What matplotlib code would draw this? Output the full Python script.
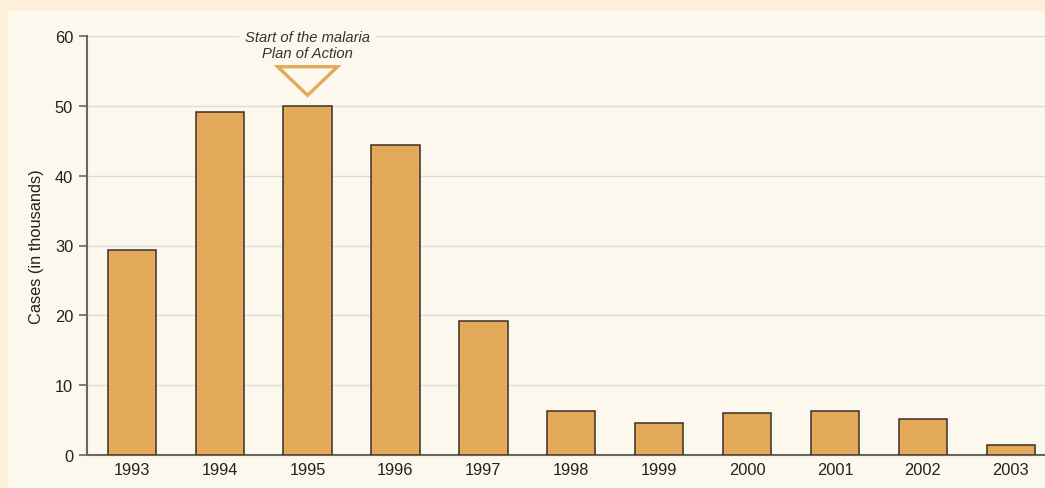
import matplotlib.pyplot as plt
from matplotlib.patches import Polygon, Rectangle

years = ['1993', '1994', '1995', '1996', '1997', '1998', '1999', '2000', '2001', '2002', '2003']
cases = [29.4, 49.1, 50.0, 44.4, 19.2, 6.3, 4.6, 6.0, 6.3, 5.2, 1.4]
yticks = [0, 10, 20, 30, 40, 50, 60]
note = "Start of the malaria\nPlan of Action"
note_year = 2

outer = '#fdefd9'
panel = '#fdf8ee'
bar_col = '#e3aa5c'
edge_col = '#3b2f22'
grid_col = '#d9d9df'
spine_col = '#6b6660'
text_col = '#222222'

plt.rcParams['font.family'] = ['Liberation Sans', 'DejaVu Sans']
fs = 11.8

fig = plt.figure(figsize=(10.45, 4.89), dpi=100)
fig.patch.set_facecolor(outer)
# inner cream panel
fig.patches.append(Rectangle((8 / 1045, 0), 1, 1 - 12 / 489, transform=fig.transFigure,
                             facecolor=panel, edgecolor='none', zorder=-10))

ax = fig.add_axes([87 / 1045, 33 / 489, 1 - 87 / 1045, (456 - 37) / 489])
ax.set_facecolor('none')

x = list(range(len(years)))
ax.bar(x, cases, width=0.55, color=bar_col, edgecolor=edge_col, linewidth=1.1, zorder=3)

ax.set_xlim(-0.51, 10.39)
ax.set_ylim(0, 60)
ax.set_yticks(yticks)
ax.set_xticks(x)
ax.set_xticklabels(years)
ax.tick_params(axis='x', length=0, pad=5, labelsize=fs, labelcolor=text_col)
ax.tick_params(axis='y', length=6, width=1.2, color=spine_col, pad=4, labelsize=fs, labelcolor=text_col)
ax.yaxis.grid(True, color=grid_col, linewidth=1.0, zorder=0)
ax.set_axisbelow(True)

for s in ['top', 'right']:
    ax.spines[s].set_visible(False)
for s in ['left', 'bottom']:
    ax.spines[s].set_color(spine_col)
    ax.spines[s].set_linewidth(1.5)

ax.set_ylabel('Cases (in thousands)', fontsize=fs, color=text_col, labelpad=8)

# annotation over 1995
ax.text(note_year, 60.8, note, ha='center', va='top', fontsize=10.6, style='italic',
        color='#333333', linespacing=1.1, zorder=4,
        bbox=dict(boxstyle='square,pad=0.4', facecolor=panel, edgecolor='none'))
tri = Polygon([[note_year - 0.34, 55.6], [note_year + 0.34, 55.6], [note_year, 51.5]],
              closed=True, facecolor=panel, edgecolor=bar_col, linewidth=2.4, zorder=4,
              clip_on=False)
ax.add_patch(tri)

fig.savefig('out.png', dpi=100, facecolor=fig.get_facecolor())
